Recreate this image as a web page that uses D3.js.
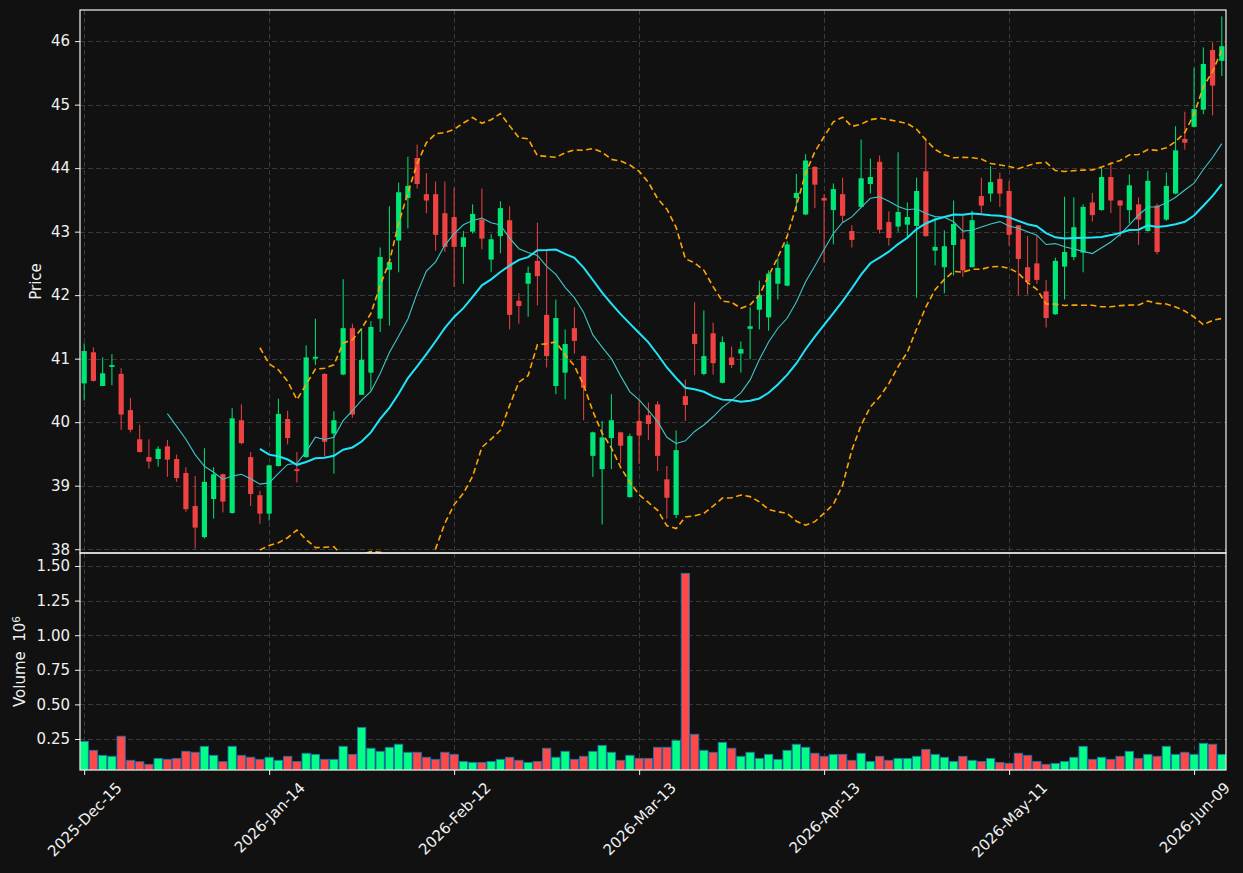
<!DOCTYPE html>
<html lang="en-us">
<meta charset="utf-8">
<head>
  <title>Price and volume</title>
  <style>
  body {
    margin: 0;
    background: #111111;
  }

  svg {
    display: block;
  }

  text {
    font-family: "DejaVu Sans", sans-serif;
    fill: #f0f0f0;
  }

  .grid line {
    stroke: #3a3a3a;
    stroke-dasharray: 5,3;
    shape-rendering: crispEdges;
  }

  .axis path {
    display: none;
  }

  .axis line {
    stroke: #f0f0f0;
  }

  .axis text {
    font-size: 15px;
  }

  .frame {
    fill: none;
    stroke: #f4f4f4;
    stroke-width: 1.2px;
  }
  </style>
</head>
<body>
<svg id="chart" width="1243" height="873"></svg>
<script src="https://cdn.jsdelivr.net/npm/d3@7/dist/d3.min.js"></script>
<script>

// daily bars
var opens = [40.61,41.10,40.57,40.87,40.76,40.19,39.73,39.45,39.42,39.62,
  39.42,39.20,38.68,38.19,38.79,39.18,38.57,40.03,39.45,38.85,
  38.56,39.31,40.05,39.26,39.45,41.00,40.76,39.82,40.75,41.48,
  40.43,40.78,41.63,42.40,42.86,43.53,44.16,43.59,43.59,43.29,
  43.23,42.76,43.00,43.19,42.56,42.93,43.18,41.91,42.18,42.54,
  41.69,40.57,40.78,41.48,41.04,39.47,39.26,39.75,39.84,38.82,
  40.02,40.11,40.28,39.10,38.54,40.41,41.39,40.76,41.40,40.62,
  41.02,41.08,41.47,41.77,41.65,42.18,42.15,43.53,43.27,44.02,
  43.53,43.34,43.59,43.01,43.39,43.75,44.10,43.15,43.08,43.11,
  43.09,43.95,42.70,42.44,42.79,42.88,42.44,43.56,43.60,43.83,
  43.64,43.10,42.44,42.50,42.06,41.70,42.45,42.60,42.67,43.46,
  43.34,43.86,43.49,43.34,43.43,43.01,43.41,43.19,43.60,44.46,
  44.65,44.92,45.86,45.69];

var highs = [41.24,41.18,41.02,41.07,40.85,40.38,39.96,39.73,39.62,39.72,
  39.49,39.29,39.15,39.59,39.29,39.19,40.22,40.28,39.53,38.92,
  39.33,40.37,40.18,39.53,41.21,41.63,40.77,40.17,42.25,41.55,
  41.48,41.59,42.75,43.40,43.77,44.18,44.37,43.92,43.79,43.79,
  43.69,43.01,43.43,43.68,42.96,43.48,43.40,42.03,42.45,43.14,
  42.71,41.93,41.46,41.81,41.05,39.85,40.02,40.44,39.85,39.82,
  40.35,40.31,40.33,39.31,39.87,40.67,41.89,41.76,41.57,41.35,
  41.19,41.27,41.81,42.23,42.39,42.59,42.85,43.91,44.22,44.03,
  43.59,43.76,43.85,43.10,44.45,44.15,44.20,43.32,44.25,43.46,
  43.85,44.48,43.22,43.02,43.49,43.26,43.33,43.85,44.03,43.93,
  43.80,43.10,42.93,42.93,42.24,42.59,43.55,43.54,43.43,43.61,
  44.01,44.10,43.50,43.90,43.54,43.96,43.44,43.93,44.66,44.89,
  45.58,45.90,45.98,46.39];

var lows = [40.34,40.64,40.57,40.58,39.88,39.84,39.52,39.27,39.30,39.14,
  39.06,38.59,38.01,38.17,38.48,38.58,38.56,39.65,38.68,38.40,
  38.45,39.30,39.65,39.05,39.44,40.90,39.46,39.19,40.74,40.07,
  40.43,40.50,41.42,41.52,42.36,43.05,43.68,43.29,42.70,42.68,
  42.13,42.18,42.97,42.72,42.36,42.66,41.46,41.55,41.66,41.84,
  40.86,40.44,40.36,41.08,40.03,39.14,38.39,39.26,39.35,38.81,
  39.34,39.72,39.23,38.48,38.49,40.02,40.74,40.74,40.75,40.61,
  40.85,40.78,40.99,41.46,41.44,41.93,42.14,43.32,43.26,43.37,
  42.51,42.80,43.14,42.75,43.37,43.60,42.97,42.78,43.00,42.92,
  41.96,42.92,42.47,42.03,42.31,42.29,42.44,43.29,43.47,43.39,
  42.78,42.00,42.01,42.18,41.49,41.69,41.93,42.55,42.36,43.16,
  43.33,43.29,42.92,43.13,42.79,43.00,42.64,43.17,43.59,44.29,
  44.64,44.85,44.83,45.45];

var closes = [41.12,40.65,40.77,40.90,40.12,39.88,39.53,39.38,39.58,39.41,
  39.12,38.63,38.34,39.06,39.18,38.75,40.06,39.67,38.87,38.56,
  39.32,40.13,39.75,39.23,41.02,41.03,39.69,40.03,41.48,40.12,
  40.98,41.50,42.60,42.52,43.62,43.72,43.75,43.49,42.95,42.76,
  42.76,42.91,43.28,42.89,42.88,43.37,41.69,41.83,42.35,42.30,
  41.04,41.64,41.23,41.28,40.54,39.84,39.76,40.03,39.63,39.78,
  39.79,39.97,39.47,38.81,39.56,40.27,41.23,41.04,40.93,41.26,
  40.90,41.15,41.51,42.00,42.34,42.43,42.80,43.61,44.12,43.74,
  43.49,43.67,43.25,42.87,43.84,43.86,43.03,42.90,43.31,43.23,
  43.64,42.93,42.76,42.77,43.12,42.39,43.18,43.41,43.78,43.60,
  42.95,42.57,42.21,42.24,41.64,42.54,42.68,43.07,43.39,43.26,
  43.86,43.49,43.41,43.73,43.19,43.80,42.68,43.72,44.28,44.40,
  44.93,45.64,45.30,45.92];

// volume in millions
var volumes = [0.233,0.168,0.132,0.125,0.270,0.096,0.086,0.067,0.110,0.103,
  0.110,0.161,0.154,0.197,0.132,0.086,0.197,0.132,0.118,0.103,
  0.118,0.096,0.125,0.088,0.147,0.139,0.103,0.103,0.197,0.139,
  0.334,0.183,0.161,0.190,0.212,0.154,0.154,0.118,0.103,0.154,
  0.139,0.088,0.081,0.081,0.088,0.103,0.118,0.096,0.081,0.088,
  0.183,0.118,0.161,0.103,0.125,0.161,0.204,0.154,0.096,0.132,
  0.110,0.110,0.190,0.190,0.240,1.447,0.284,0.168,0.154,0.226,
  0.183,0.125,0.154,0.110,0.139,0.103,0.168,0.212,0.190,0.147,
  0.125,0.139,0.139,0.096,0.147,0.088,0.125,0.096,0.110,0.110,
  0.125,0.175,0.139,0.118,0.088,0.125,0.096,0.088,0.110,0.081,
  0.074,0.147,0.132,0.088,0.067,0.074,0.088,0.118,0.197,0.103,
  0.118,0.103,0.125,0.161,0.110,0.139,0.125,0.197,0.139,0.154,
  0.139,0.219,0.212,0.139];

var tickIndex = [0, 20, 40, 60, 80, 100, 120];
var tickLabels = ["2025-Dec-15", "2026-Jan-14", "2026-Feb-12", "2026-Mar-13",
  "2026-Apr-13", "2026-May-11", "2026-Jun-09"];
var priceTicks = [38, 39, 40, 41, 42, 43, 44, 45, 46];
var volumeTicks = [0.25, 0.50, 0.75, 1.00, 1.25, 1.50];

var upColor = "#00e676", downColor = "#ef4343";
var volUp = "#00ff84", volDown = "#ff4848";

var svg = d3.select("svg#chart"),
    left = 80, right = 1226,
    priceTop = 10, priceBottom = 553,
    volTop = 553, volBottom = 770;

svg.append("rect").attr("width", 1243).attr("height", 873).attr("fill", "#111111");

var n = closes.length;
var bars = d3.range(n).map(function(i) {
  return {i: i, o: opens[i], h: highs[i], l: lows[i], c: closes[i], v: volumes[i]};
});

var x = d3.scaleLinear().domain([-0.45, n - 0.55]).range([left, right]);
var yPrice = d3.scaleLinear().domain([37.94, 46.49]).range([priceBottom, priceTop]);
var yVol = d3.scaleLinear().domain([0.026, 1.594]).range([volBottom, volTop]);
var step = x(1) - x(0);

// moving averages and 20 day bands from the closes
function rolling(arr, len, fn) {
  return arr.map(function(d, i) {
    if (i < len - 1) return null;
    return fn(arr.slice(i - len + 1, i + 1));
  });
}
var ma10 = rolling(closes, 10, d3.mean);
var ma20 = rolling(closes, 20, d3.mean);
var sd20 = rolling(closes, 20, function(w) {
  var m = d3.mean(w);
  return Math.sqrt(d3.mean(w, function(v) { return (v - m) * (v - m); }));
});
var upper = ma20.map(function(m, i) { return m === null ? null : m + 2 * sd20[i]; });
var lower = ma20.map(function(m, i) { return m === null ? null : m - 2 * sd20[i]; });

var defs = svg.append("defs");
defs.append("clipPath").attr("id", "clipPrice").append("rect")
    .attr("x", left).attr("y", priceTop).attr("width", right - left).attr("height", priceBottom - priceTop);
defs.append("clipPath").attr("id", "clipVol").append("rect")
    .attr("x", left).attr("y", volTop).attr("width", right - left).attr("height", volBottom - volTop);

// grid
var grid = svg.append("g").attr("class", "grid");
grid.selectAll(".gp").data(priceTicks).enter().append("line")
    .attr("x1", left).attr("x2", right)
    .attr("y1", function(d) { return Math.round(yPrice(d)) + 0.5; })
    .attr("y2", function(d) { return Math.round(yPrice(d)) + 0.5; });
grid.selectAll(".gv").data(volumeTicks).enter().append("line")
    .attr("x1", left).attr("x2", right)
    .attr("y1", function(d) { return Math.round(yVol(d)) + 0.5; })
    .attr("y2", function(d) { return Math.round(yVol(d)) + 0.5; });
grid.selectAll(".gx1").data(tickIndex).enter().append("line")
    .attr("x1", function(d) { return Math.round(x(d)) + 0.5; })
    .attr("x2", function(d) { return Math.round(x(d)) + 0.5; })
    .attr("y1", priceTop).attr("y2", priceBottom);
grid.selectAll(".gx2").data(tickIndex).enter().append("line")
    .attr("x1", function(d) { return Math.round(x(d)) + 0.5; })
    .attr("x2", function(d) { return Math.round(x(d)) + 0.5; })
    .attr("y1", volTop).attr("y2", volBottom);

// candles
var price = svg.append("g").attr("clip-path", "url(#clipPrice)");
var candle = price.selectAll(".candle").data(bars).enter().append("g").attr("class", "candle");

candle.append("line")
    .attr("x1", function(d) { return x(d.i); })
    .attr("x2", function(d) { return x(d.i); })
    .attr("y1", function(d) { return yPrice(d.h); })
    .attr("y2", function(d) { return yPrice(d.l); })
    .attr("stroke", function(d) { return d.c >= d.o ? upColor : downColor; })
    .attr("stroke-width", 1);

candle.append("rect")
    .attr("x", function(d) { return x(d.i) - step * 0.28; })
    .attr("width", step * 0.56)
    .attr("y", function(d) { return yPrice(Math.max(d.o, d.c)); })
    .attr("height", function(d) { return Math.max(1, Math.abs(yPrice(d.o) - yPrice(d.c))); })
    .attr("fill", function(d) { return d.c >= d.o ? upColor : downColor; });

// averages and bands
function makeLine(vals) {
  return d3.line()
      .defined(function(d, i) { return vals[i] !== null; })
      .x(function(d, i) { return x(i); })
      .y(function(d, i) { return yPrice(vals[i]); })(vals);
}

price.append("path").attr("d", makeLine(ma10))
    .attr("fill", "none").attr("stroke", "#3fc6c6").attr("stroke-width", 1.1);
price.append("path").attr("d", makeLine(ma20))
    .attr("fill", "none").attr("stroke", "#1ee6f8").attr("stroke-width", 2);
[upper, lower].forEach(function(band) {
  price.append("path").attr("d", makeLine(band))
      .attr("fill", "none").attr("stroke", "#ffa500")
      .attr("stroke-width", 1.6).attr("stroke-dasharray", "6,3.5");
});

// volume
var vol = svg.append("g").attr("clip-path", "url(#clipVol)");
vol.selectAll(".vbar").data(bars).enter().append("rect")
    .attr("class", "vbar")
    .attr("x", function(d) { return x(d.i) - step * 0.45; })
    .attr("width", step * 0.9)
    .attr("y", function(d) { return yVol(d.v); })
    .attr("height", function(d) { return yVol(0) - yVol(d.v); })
    .attr("fill", function(d) { return d.c >= d.o ? volUp : volDown; })
    .attr("stroke", "#1f6fae")
    .attr("stroke-width", 0.9);

// axes
svg.append("g")
    .attr("class", "axis")
    .attr("transform", "translate(" + left + ",0)")
    .call(d3.axisLeft(yPrice).tickValues(priceTicks).tickSize(5).tickPadding(5)
      .tickFormat(d3.format("d")));

svg.append("g")
    .attr("class", "axis")
    .attr("transform", "translate(" + left + ",0)")
    .call(d3.axisLeft(yVol).tickValues(volumeTicks).tickSize(5).tickPadding(5)
      .tickFormat(d3.format(".2f")));

var xAxis = svg.append("g")
    .attr("class", "axis")
    .attr("transform", "translate(0," + volBottom + ")")
    .call(d3.axisBottom(x).tickValues(tickIndex).tickSize(5)
      .tickFormat(function(d, i) { return tickLabels[i]; }));

// rotate the date labels 45 degrees, centred under the tick
xAxis.selectAll(".tick text").each(function() {
  var t = d3.select(this);
  var len = this.getComputedTextLength();
  var half = (len + 17) / Math.SQRT2 / 2;
  t.attr("y", 0).attr("dy", "0.35em").attr("text-anchor", "middle")
   .attr("transform", "translate(0," + (9 + half) + ") rotate(-45)");
});

// frames
svg.append("rect").attr("class", "frame")
    .attr("x", left).attr("y", priceTop).attr("width", right - left).attr("height", priceBottom - priceTop);
svg.append("rect").attr("class", "frame")
    .attr("x", left).attr("y", volTop).attr("width", right - left).attr("height", volBottom - volTop);

// axis titles
svg.append("text")
    .attr("transform", "translate(41," + ((priceTop + priceBottom) / 2) + ") rotate(-90)")
    .attr("text-anchor", "middle")
    .style("font-size", "15px")
    .text("Price");

var volLabel = svg.append("text")
    .attr("transform", "translate(25," + ((volTop + volBottom) / 2) + ") rotate(-90)")
    .attr("text-anchor", "middle")
    .style("font-size", "15px");
volLabel.append("tspan").text("Volume\u00a0 10");
volLabel.append("tspan").attr("dy", "-0.45em").style("font-size", "10.5px").text("6");

</script>
</body>
</html>
